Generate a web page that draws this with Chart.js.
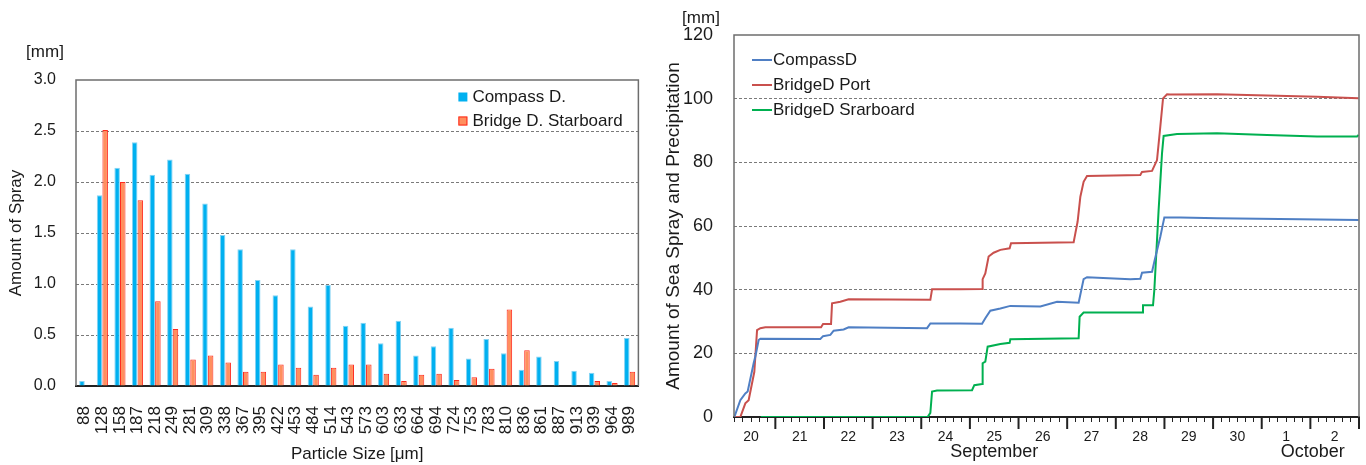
<!DOCTYPE html>
<html>
<head>
<meta charset="utf-8">
<script src="https://cdn.jsdelivr.net/npm/chart.js@4.4.1/dist/chart.umd.min.js"></script>
<style>
body{margin:0;background:#fff;width:1366px;height:465px;overflow:hidden;position:relative}
#izq{position:absolute;left:0;top:0;width:662px;height:465px}
#der{position:absolute;left:650px;top:0;width:716px;height:465px}
</style>
</head>
<body>
<div id="izq"><canvas id="graficoTamano"></canvas></div>
<div id="der"><canvas id="graficoAcumulado"></canvas></div>
<script>
Chart.defaults.font.family = "'Liberation Sans', Arial, sans-serif"
Chart.defaults.color = '#1a1a1a'

// grafico izquierdo: cantidad por tamano de particula
const tamanos = ["88","128","158","187","218","249","281","309","338","367","395","422","453","484","514","543",
    "573","603","633","664","694","724","753","783","810","836","861","887","913","939","964","989"]
const compassD = [0.05,1.87,2.14,2.39,2.07,2.22,2.08,1.79,1.48,1.34,1.04,0.89,1.34,0.78,0.99,0.59,
    0.62,0.42,0.64,0.30,0.39,0.57,0.27,0.46,0.32,0.16,0.29,0.245,0.15,0.13,0.05,0.47]
const bridgeDStarboard = [0,2.51,2.00,1.82,0.83,0.56,0.26,0.30,0.23,0.14,0.14,0.21,0.18,0.11,0.18,0.21,
    0.21,0.12,0.05,0.11,0.12,0.06,0.085,0.17,0.75,0.35,0,0,0,0.05,0.03,0.14]

// grafico derecho: acumulado (dia de septiembre, 31 = 1 de octubre)
const diasCompass = [20.157,20.28,20.383,20.431,20.554,20.589,20.657,20.692,21.925,21.981,22.131,22.199,22.404,22.507,
    24.119,24.187,24.803,25.25,25.317,25.42,25.626,25.831,26.448,26.792,27.236,27.338,27.408,28.298,28.504,28.539,
    28.745,28.792,28.915,28.998,29.327,30.081,31.794,32.992]
const mmCompass = [0,5.3,7.4,8.0,16.9,19.0,24.2,24.6,24.5,25.4,25.8,27.1,27.5,28.2,
    27.9,29.4,29.4,29.3,31.0,33.4,34.1,34.9,34.7,36.2,35.9,43.3,43.9,43.3,43.4,45.3,
    45.6,48.8,56.6,62.7,62.7,62.4,62.1,61.9]
const diasPort = [20.157,20.28,20.383,20.451,20.568,20.624,20.692,20.794,21.94,21.981,22.145,22.166,22.336,22.507,
    24.187,24.222,24.803,25.25,25.262,25.317,25.385,25.488,25.626,25.817,25.846,27.133,27.168,27.215,27.271,27.338,
    27.408,28.504,28.539,28.745,28.847,28.915,28.971,29.053,29.121,30.081,31.109,32.137,32.992]
const mmPort = [0,0,4.3,5.3,14.2,27.3,27.9,28.2,28.2,29.2,29.2,35.7,36.2,37.0,
    36.8,40.1,40.1,40.2,43.3,45.1,50.4,51.6,52.5,53.0,54.6,54.9,57.7,61.4,69.2,73.9,
    75.7,76.0,77.0,77.3,80.7,91.2,100.1,101.4,101.3,101.4,101.0,100.6,100.1]
const diasStarboard = [20.7,24.131,24.187,24.222,24.324,25.044,25.091,25.25,25.262,25.317,25.365,25.626,25.817,25.831,
    27.236,27.256,27.338,28.539,28.559,28.765,28.792,28.88,28.95,28.983,29.259,30.081,31.109,32.137,32.96,32.992]
const mmStarboard = [0,0,1.3,8.0,8.3,8.4,10.0,10.4,16.9,17.4,22.1,22.9,23.3,24.4,
    24.7,31.5,32.8,32.8,35.1,35.1,39.9,65.0,82.8,88.3,88.9,89.1,88.6,88.1,88.1,88.6]
const mesesNombres = ["September","October"]
const mesesPos = [25.5, 32.05]

function puntos(dias, mm){
    return dias.map(function(d, i){ return {x: d, y: mm[i]} })
}

const fuente = "'Liberation Sans', Arial, sans-serif"

// marco del area de datos (arriba, izquierda, derecha)
const marco = {
    id: 'marco',
    afterDraw(chart){
        const ctx = chart.ctx, a = chart.chartArea
        ctx.save()
        ctx.strokeStyle = '#6d6d6d'
        ctx.lineWidth = 1.5
        ctx.beginPath()
        ctx.moveTo(a.left, a.bottom)
        ctx.lineTo(a.left, a.top)
        ctx.lineTo(a.right, a.top)
        ctx.lineTo(a.right, a.bottom)
        ctx.stroke()
        ctx.restore()
    }
}

function unidad(dx, dy){
    return {
        id: 'unidad',
        afterDraw(chart){
            const ctx = chart.ctx, a = chart.chartArea
            ctx.save()
            ctx.font = "17px " + fuente
            ctx.fillStyle = '#1a1a1a'
            ctx.textAlign = 'center'
            ctx.textBaseline = 'middle'
            ctx.fillText("[mm]", a.left + dx, a.top + dy)
            ctx.restore()
        }
    }
}

const leyendaBarras = {
    id: 'leyendaBarras',
    afterDraw(chart){
        const ctx = chart.ctx, a = chart.chartArea
        ctx.save()
        ctx.font = "17px " + fuente
        ctx.textBaseline = 'middle'
        chart.data.datasets.forEach(function(ds, i){
            let x = a.right - 180, y = a.top + 17 + i*24
            ctx.fillStyle = ds.backgroundColor
            ctx.fillRect(x, y - 4.5, 9, 9)
            if(i == 1){
                ctx.strokeStyle = ds.borderColor
                ctx.lineWidth = 1
                ctx.strokeRect(x + 0.5, y - 4, 8, 8)
            }
            ctx.fillStyle = '#1a1a1a'
            ctx.fillText(ds.label, x + 14, y)
        })
        ctx.restore()
    }
}

const leyendaLineas = {
    id: 'leyendaLineas',
    afterDraw(chart){
        const ctx = chart.ctx, a = chart.chartArea
        ctx.save()
        ctx.font = "17px " + fuente
        ctx.textBaseline = 'middle'
        chart.data.datasets.forEach(function(ds, i){
            let x = a.left + 18, y = a.top + 25 + i*25
            ctx.strokeStyle = ds.borderColor
            ctx.lineWidth = 2
            ctx.beginPath()
            ctx.moveTo(x, y)
            ctx.lineTo(x + 20, y)
            ctx.stroke()
            ctx.fillStyle = '#1a1a1a'
            ctx.fillText(ds.label, x + 21, y)
        })
        ctx.restore()
    }
}

// marcas de dia (mas largas) sobre el eje x
const marcasDia = {
    id: 'marcasDia',
    afterDraw(chart){
        const ctx = chart.ctx, a = chart.chartArea, escala = chart.scales.x
        ctx.save()
        ctx.strokeStyle = '#222'
        ctx.lineWidth = 2
        for(let d = Math.ceil(escala.min); d <= escala.max; d++){
            let px = escala.getPixelForValue(d)
            ctx.beginPath()
            ctx.moveTo(px, a.bottom)
            ctx.lineTo(px, a.bottom + 12)
            ctx.stroke()
        }
        ctx.restore()
    }
}

var ctxIzq = document.getElementById("graficoTamano").getContext("2d")
var ctxDer = document.getElementById("graficoAcumulado").getContext("2d")

new Chart(ctxIzq, {
    type: 'bar',
    data: {
        labels: tamanos,
        datasets: [{
            label: 'Compass D.',
            data: compassD,
            backgroundColor: '#00B0F0',
            borderColor: '#86D3F3',
            borderWidth: 1,
            categoryPercentage: 0.64,
            barPercentage: 0.98
        },{
            label: 'Bridge D. Starboard',
            data: bridgeDStarboard,
            backgroundColor: '#FF8F5E',
            borderColor: '#FF2A1F',
            borderWidth: 1,
            categoryPercentage: 0.64,
            barPercentage: 0.98
        }]
    },
    options: {
        responsive: true,
        maintainAspectRatio: false,
        animation: false,
        layout: {padding: {top: 80, right: 0, left: 0, bottom: 0}},
        plugins: {legend: {display: false}, tooltip: {enabled: false}},
        scales: {
            x: {
                grid: {display: false},
                border: {color: '#222', width: 2},
                ticks: {font: {size: 17}, minRotation: 90, maxRotation: 90, autoSkip: false, padding: 12},
                title: {display: true, text: 'Particle Size [μm]', font: {size: 17}, padding: {top: 0, bottom: 0}},
                afterFit: function(s){ s.height = 79 }
            },
            y: {
                min: 0,
                max: 3,
                ticks: {stepSize: 0.5, font: {size: 16}, padding: 20, callback: function(v){ return v.toFixed(1) }},
                grid: {
                    drawTicks: false,
                    color: function(c){ return (c.tick.value > 0 && c.tick.value < 3) ? '#7a7a7a' : 'transparent' }
                },
                border: {display: false, dash: [3, 2]},
                title: {display: true, text: 'Amount of Spray', font: {size: 17}, padding: {top: 6, bottom: 0}},
                afterFit: function(s){ s.width = 76 }
            }
        }
    },
    plugins: [marco, leyendaBarras, unidad(-31, -28)]
})

new Chart(ctxDer, {
    type: 'line',
    data: {
        datasets: [{
            label: 'CompassD',
            data: puntos(diasCompass, mmCompass),
            borderColor: '#4F7FC4',
            backgroundColor: '#4F7FC4'
        },{
            label: 'BridgeD Port',
            data: puntos(diasPort, mmPort),
            borderColor: '#C9504D',
            backgroundColor: '#C9504D'
        },{
            label: 'BridgeD Srarboard',
            data: puntos(diasStarboard, mmStarboard),
            borderColor: '#00B050',
            backgroundColor: '#00B050'
        }]
    },
    options: {
        responsive: true,
        maintainAspectRatio: false,
        animation: false,
        layout: {padding: {top: 35, right: 7, left: 0, bottom: 0}},
        elements: {line: {borderWidth: 2, tension: 0}, point: {radius: 0}},
        plugins: {legend: {display: false}, tooltip: {enabled: false}},
        scales: {
            x: {
                type: 'linear',
                min: 20.15,
                max: 33,
                weight: 0,
                afterBuildTicks: function(s){
                    let marcas = []
                    for(let k = Math.ceil(s.min*6); k <= Math.floor(s.max*6); k++) marcas.push({value: k/6})
                    s.ticks = marcas
                },
                grid: {drawOnChartArea: false, tickLength: 5, tickColor: '#222'},
                border: {color: '#222', width: 2},
                ticks: {
                    font: {size: 14}, padding: 7, autoSkip: false, maxRotation: 0,
                    callback: function(v){
                        let k = Math.round(v*6)
                        if(k % 6 != 3) return ''
                        let d = Math.floor(v)
                        return String(d > 30 ? d - 30 : d)
                    }
                },
                afterFit: function(s){ s.height = 26 }
            },
            meses: {
                type: 'linear',
                position: 'bottom',
                min: 20.15,
                max: 33,
                weight: 1,
                afterBuildTicks: function(s){
                    s.ticks = mesesPos.map(function(p){ return {value: p} })
                },
                grid: {display: false, drawTicks: false},
                border: {display: false},
                ticks: {
                    font: {size: 18, lineHeight: 1}, padding: 0, autoSkip: false, maxRotation: 0,
                    callback: function(v, i){ return mesesNombres[i] }
                },
                afterFit: function(s){ s.height = 22 }
            },
            y: {
                min: 0,
                max: 120,
                ticks: {stepSize: 20, font: {size: 18}, padding: 21},
                grid: {
                    drawTicks: false,
                    color: function(c){ return (c.tick.value > 0 && c.tick.value < 120) ? '#7a7a7a' : 'transparent' }
                },
                border: {display: false, dash: [3, 2]},
                title: {display: true, text: 'Amount of Sea Spray and Precipitation', font: {size: 19}, padding: {top: 12, bottom: 0}},
                afterFit: function(s){ s.width = 84 }
            }
        }
    },
    plugins: [marco, leyendaLineas, marcasDia, unidad(-33, -17)]
})
</script>
</body>
</html>
